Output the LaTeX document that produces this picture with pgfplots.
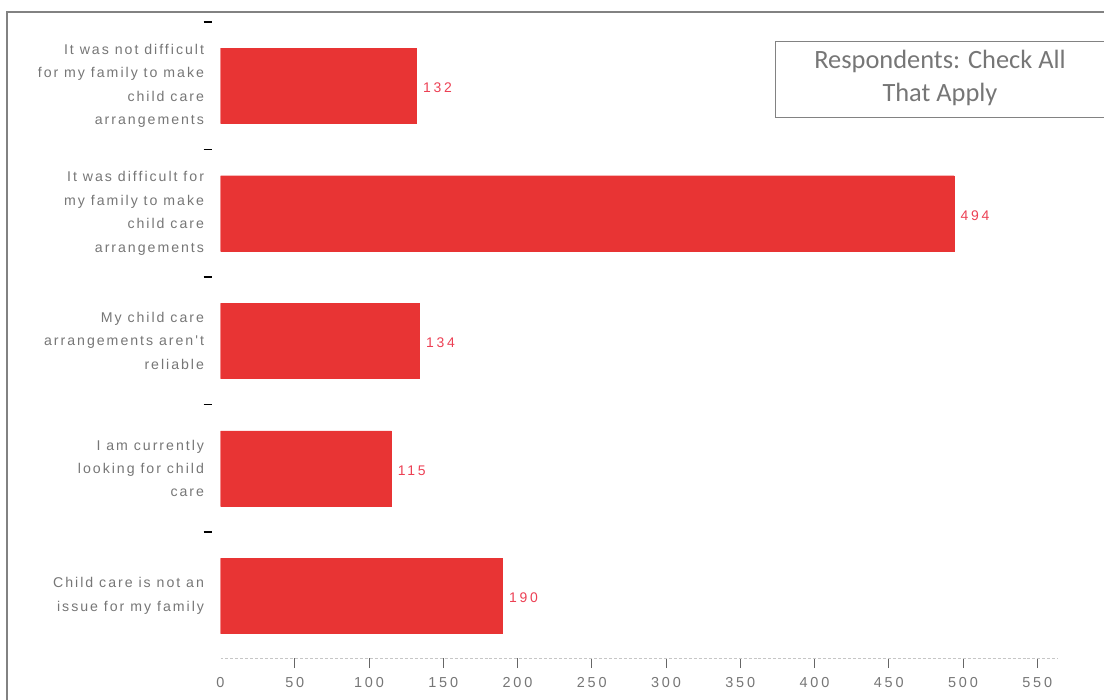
\documentclass[border=0pt]{standalone}
\usepackage{pgfplots}
\pgfplotsset{compat=1.18}
\usepackage{fontspec}
\setmainfont{Liberation Sans}
\newfontfamily\boxfont{Carlito}
\newfontfamily\lblfont[LetterSpace=14]{Liberation Sans}
\newfontfamily\numfont[LetterSpace=20]{Liberation Sans}
\definecolor{barred}{RGB}{232,52,52}
\definecolor{valred}{RGB}{236,64,84}
\definecolor{txtgray}{RGB}{118,118,118}
\definecolor{framegray}{RGB}{130,130,130}
\begin{document}
\begin{tikzpicture}[x=1bp,y=1bp]
\useasboundingbox (0,0) rectangle (1104,-700);
\draw[framegray, line width=1.6bp] (7,-700) -- (7,-12) -- (1104,-12);
\begin{axis}[
  at={(220.5bp,-658bp)}, anchor=south west,
  scale only axis, width=837.5bp, height=636bp,
  xbar, bar width=0.59,
  xmin=0, xmax=564, ymin=-0.5, ymax=4.486, y dir=reverse,
  axis x line*=bottom, axis y line*=left,
  x axis line style={densely dashed, gray!45, line width=0.8bp, -},
  y axis line style={draw=none},
  xtick={50,100,...,550},
  extra x ticks={0},
  extra x tick style={major x tick style={draw=none}},
  ytick={0,1,2,3,4},
  minor ytick={-0.5,0.5,1.5,2.5,3.5},
  tick align=outside,
  major tick length=10bp,
  minor tick length=8bp,
  major x tick style={gray!80!black, line width=0.7bp},
  major y tick style={draw=none},
  minor y tick style={black, line width=1.6bp, xshift=-9bp},
  /pgf/number format/assume math mode=true,
  xticklabel style={font=\numfont\fontsize{14.5}{16}\selectfont, text=txtgray, yshift=-6bp},
  yticklabels={{It was not difficult\\for my family to make\\child care\\arrangements},
               {It was difficult for\\my family to make\\child care\\arrangements},
               {My child care\\arrangements aren't\\reliable},
               {I am currently\\looking for child\\care},
               {Child care is not an\\issue for my family}},
  yticklabel style={align=right, font=\lblfont\fontsize{14.2}{23.5}\selectfont, text=txtgray, xshift=-3bp},
  nodes near coords,
  nodes near coords style={font=\numfont\fontsize{14}{15}\selectfont, text=valred, anchor=west, xshift=3bp, yshift=-2bp},
  point meta=explicit symbolic,
]
\addplot[fill=barred, draw=barred] coordinates {
  (132,0) [132]
  (494,1) [494]
  (134,2) [134]
  (115,3) [115]
  (190,4) [190]
};
\end{axis}
\draw[framegray, line width=1bp] (1104,-42) -- (775,-42) -- (775,-118) -- (1104,-118);
\node[align=center, text=txtgray, font=\boxfont\fontsize{26.5}{33}\selectfont] at (940,-78) {Respondents: Check All\\That Apply};
\end{tikzpicture}
\end{document}
